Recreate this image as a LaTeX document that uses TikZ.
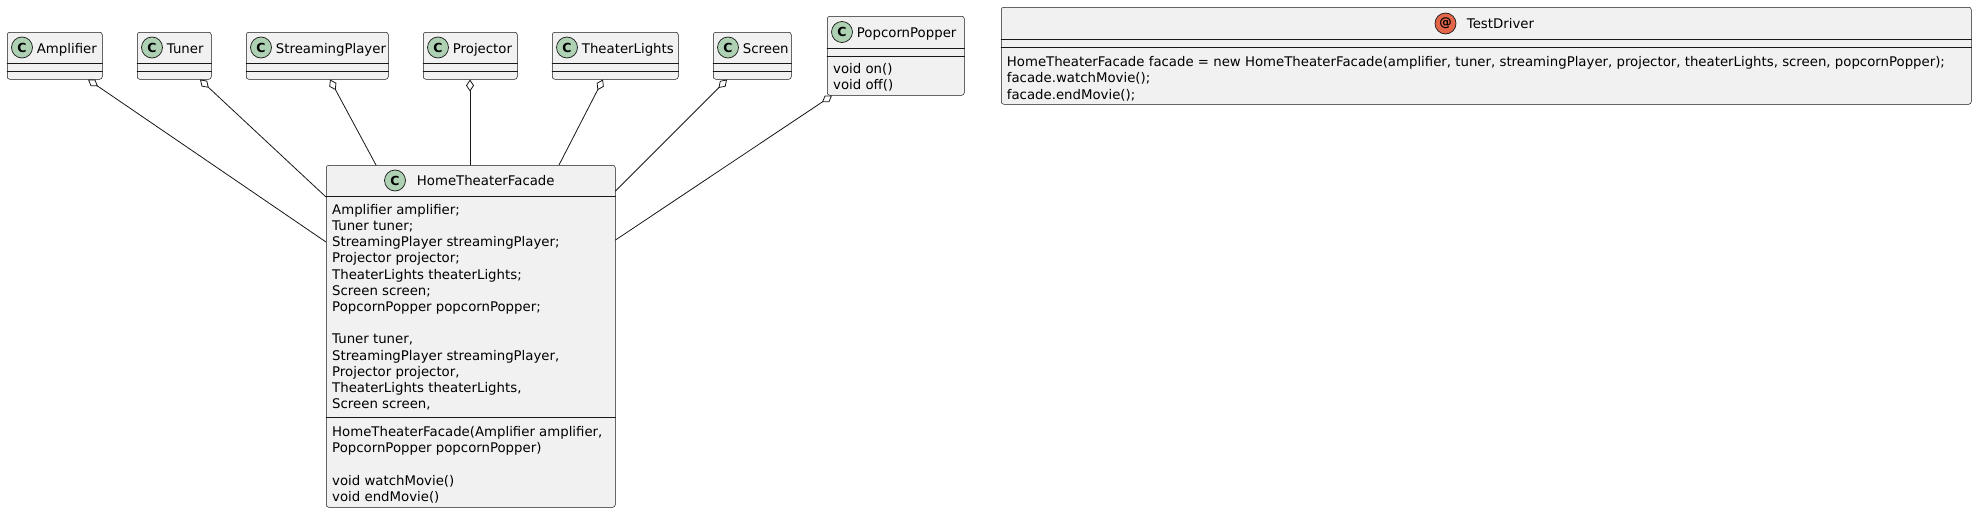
\documentclass[tikz,border=0pt]{standalone}
\usepackage{fontspec}
\setmainfont{DejaVu Sans}
\usepackage{tikz}
\usetikzlibrary{arrows.meta}
\definecolor{boxbg}{HTML}{F1F1F1}
\definecolor{umlline}{HTML}{181818}
\definecolor{spotC}{HTML}{ADD1B2}
\definecolor{spotA}{HTML}{E3664A}
\newcommand{\umlfont}{\fontsize{13.3}{16.2}\selectfont}

\begin{document}
\begin{tikzpicture}[x=1pt, y=-1pt, line join=round, line cap=round,
  classbox/.style={draw=umlline, fill=boxbg, line width=0.5pt, rounded corners=2.5pt, anchor=north west, inner sep=0pt},
  sep/.style={draw=umlline, line width=0.5pt},
  spot/.style={circle, draw=umlline, line width=0.7pt, minimum size=21pt, inner sep=0pt, font=\fontsize{12.5}{12.5}\selectfont\bfseries},
  classname/.style={anchor=base west, inner sep=0pt, font=\umlfont},
  body/.style={anchor=base west, inner sep=0pt, align=left, font=\umlfont},
  agg/.style={draw=umlline, line width=0.8pt, {Diamond[open, length=12pt, width=8pt]}-}]
\fill[white] (0,0) rectangle (1975,514);
\useasboundingbox (0,0) rectangle (1975,514);
% small classes
\node[classbox, minimum width=95pt, minimum height=47pt] (amp) at (7,32) {};
\draw[sep] (amp.west |- 0,63) -- (amp.east |- 0,63);
\draw[sep] (amp.west |- 0,71) -- (amp.east |- 0,71);
\node[spot, fill=spotC] (ampS) at (22,47.5) {C};
\node[classname] (ampN) at (36.7,53) {Amplifier};
\node[classbox, minimum width=74pt, minimum height=47pt] (tun) at (137,32) {};
\draw[sep] (tun.west |- 0,63) -- (tun.east |- 0,63);
\draw[sep] (tun.west |- 0,71) -- (tun.east |- 0,71);
\node[spot, fill=spotC] (tunS) at (152,47.5) {C};
\node[classname] (tunN) at (166.7,53) {Tuner};
\node[classbox, minimum width=142pt, minimum height=47pt] (strm) at (246,32) {};
\draw[sep] (strm.west |- 0,63) -- (strm.east |- 0,63);
\draw[sep] (strm.west |- 0,71) -- (strm.east |- 0,71);
\node[spot, fill=spotC] (strmS) at (261,47.5) {C};
\node[classname] (strmN) at (275.7,53) {StreamingPlayer};
\node[classbox, minimum width=94pt, minimum height=47pt] (proj) at (423,32) {};
\draw[sep] (proj.west |- 0,63) -- (proj.east |- 0,63);
\draw[sep] (proj.west |- 0,71) -- (proj.east |- 0,71);
\node[spot, fill=spotC] (projS) at (438,47.5) {C};
\node[classname] (projN) at (452.7,53) {Projector};
\node[classbox, minimum width=126pt, minimum height=47pt] (lights) at (552,32) {};
\draw[sep] (lights.west |- 0,63) -- (lights.east |- 0,63);
\draw[sep] (lights.west |- 0,71) -- (lights.east |- 0,71);
\node[spot, fill=spotC] (lightsS) at (567,47.5) {C};
\node[classname] (lightsN) at (581.7,53) {TheaterLights};
\node[classbox, minimum width=78pt, minimum height=47pt] (scr) at (713,32) {};
\draw[sep] (scr.west |- 0,63) -- (scr.east |- 0,63);
\draw[sep] (scr.west |- 0,71) -- (scr.east |- 0,71);
\node[spot, fill=spotC] (scrS) at (728,47.5) {C};
\node[classname] (scrN) at (742.7,53) {Screen};
\node[classbox, minimum width=137pt, minimum height=79pt] (pop) at (827,16) {};
\draw[sep] (pop.west |- 0,48) -- (pop.east |- 0,48);
\draw[sep] (pop.west |- 0,56) -- (pop.east |- 0,56);
\node[spot, fill=spotC] (popS) at (842,32) {C};
\node[classname] (popN) at (856.7,37.5) {PopcornPopper};
\node[body] (popM) at (833,89.7) {void on()\\void off()};
% facade (body nodes sit on their last baseline)
\node[classbox, minimum width=289pt, minimum height=342pt] (htf) at (326,165) {};
\draw[sep] (htf.west |- 0,196.5) -- (htf.east |- 0,196.5);
\draw[sep] (htf.west |- 0,417) -- (htf.east |- 0,417);
\node[spot, fill=spotC] (htfS) at (395,180.5) {C};
\node[classname] (htfN) at (416.7,185.7) {HomeTheaterFacade};
\node[body] (htfF) at (332,408.7) {Amplifier amplifier;\\Tuner tuner;\\StreamingPlayer streamingPlayer;\\Projector projector;\\TheaterLights theaterLights;\\Screen screen;\\PopcornPopper popcornPopper;\\[16.2pt]Tuner tuner,\\StreamingPlayer streamingPlayer,\\Projector projector,\\TheaterLights theaterLights,\\Screen screen,};
\node[body] (htfM) at (332,501.5) {HomeTheaterFacade(Amplifier amplifier,\\PopcornPopper popcornPopper)\\[16.2pt]void watchMovie()\\void endMovie()};
% driver
\node[classbox, minimum width=970pt, minimum height=97pt] (drv) at (1001,7) {};
\draw[sep] (drv.west |- 0,39) -- (drv.east |- 0,39);
\draw[sep] (drv.west |- 0,47.5) -- (drv.east |- 0,47.5);
\node[spot, fill=spotA] (drvS) at (1445.5,23.5) {@};
\node[classname] (drvN) at (1466.7,28.3) {TestDriver};
\node[body] (drvM) at (1006.7,99.1) {HomeTheaterFacade facade = new HomeTheaterFacade(amplifier, tuner, streamingPlayer, projector, theaterLights, screen, popcornPopper);\\facade.watchMovie();\\facade.endMovie();};
% aggregations
\draw[agg] (amp.south -| 88,0) -- (htf.west |- 0,242);
\draw[agg] (tun.south -| 200,0) -- (htf.west |- 0,197);
\draw[agg] (strm.south -| 330,0) -- (htf.north -| 376,0);
\draw[agg] (proj.south -| 470,0) -- (htf.north -| 470,0);
\draw[agg] (lights.south -| 603,0) -- (htf.north -| 559,0);
\draw[agg] (scr.south -| 727,0) -- (htf.east |- 0,191);
\draw[agg] (pop.south -| 832,0) -- (htf.east |- 0,240);
\end{tikzpicture}
\end{document}
